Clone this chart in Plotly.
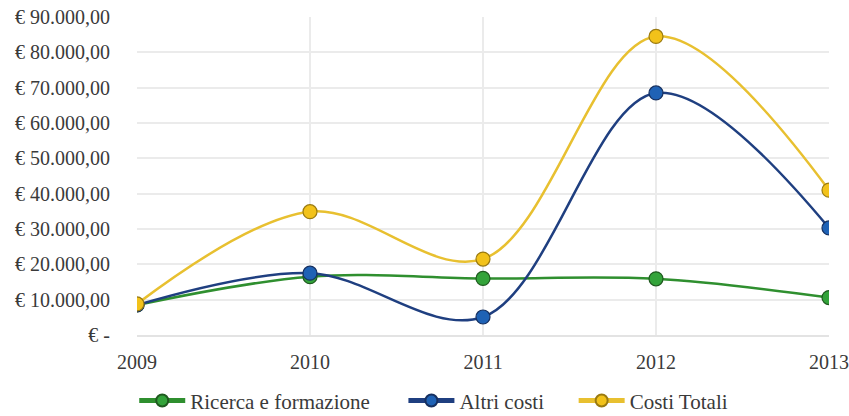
import plotly.graph_objects as go

years = [2009, 2010, 2011, 2012, 2013]
ricerca = [8500, 16500, 16000, 15900, 10600]
altri = [8500, 17500, 5100, 68500, 30300]
totali = [8800, 34900, 21500, 84500, 41000]
ytick_vals = [0, 10000, 20000, 30000, 40000, 50000, 60000, 70000, 80000, 90000]
ytick_text = ["€ -", "€ 10.000,00", "€ 20.000,00", "€ 30.000,00", "€ 40.000,00",
              "€ 50.000,00", "€ 60.000,00", "€ 70.000,00", "€ 80.000,00", "€ 90.000,00"]

series = [
    ("Ricerca e formazione", ricerca, "#2f8f2f", "#33a33a", "#1f5a1f", "legend", -0.004),
    ("Altri costi", altri, "#1f3f80", "#1f62b5", "#163060", "legend2", 0.385),
    ("Costi Totali", totali, "#e8c030", "#f2c21a", "#9a7a10", "legend3", 0.631),
]

font_family = "Liberation Serif, 'Times New Roman', serif"

fig = go.Figure()
legend_layout = {}
for name, vals, lc, mc, ec, lg, lx in series:
    fig.add_trace(go.Scatter(
        x=years, y=vals, name=name, mode="lines+markers", legend=lg,
        line=dict(color=lc, width=2.5, shape="spline", smoothing=1.0),
        marker=dict(symbol="circle", size=14, color=mc, line=dict(color=ec, width=1.2)),
    ))
    legend_layout[lg] = dict(
        orientation="h", x=lx, xanchor="left", y=-0.207, yanchor="middle",
        font=dict(family=font_family, size=21, color="#3a3a3a"),
        itemsizing="constant", itemwidth=46, bgcolor="rgba(0,0,0,0)",
    )

fig.update_layout(
    width=849, height=416,
    margin=dict(l=137, r=20, t=17, b=81, autoexpand=False),
    paper_bgcolor="white", plot_bgcolor="white",
    font=dict(family=font_family, size=20, color="#3a3a3a"),
    showlegend=True,
    **legend_layout,
    xaxis=dict(range=[2009, 2013], tickvals=years, ticktext=[str(y) for y in years],
               showgrid=True, gridcolor="#ebebeb", gridwidth=1.5, zeroline=False,
               showline=True, linecolor="#e3e3e3", linewidth=1.5, ticks="",
               tickfont=dict(size=20, family=font_family), ticklabelstandoff=8),
    yaxis=dict(range=[0, 90000], tickvals=ytick_vals, ticktext=ytick_text,
               showgrid=True, gridcolor="#ebebeb", gridwidth=1.5, zeroline=False,
               showline=False, ticks="", tickfont=dict(size=20, family=font_family),
               ticklabelstandoff=26),
)
fig.write_html("out.html")
